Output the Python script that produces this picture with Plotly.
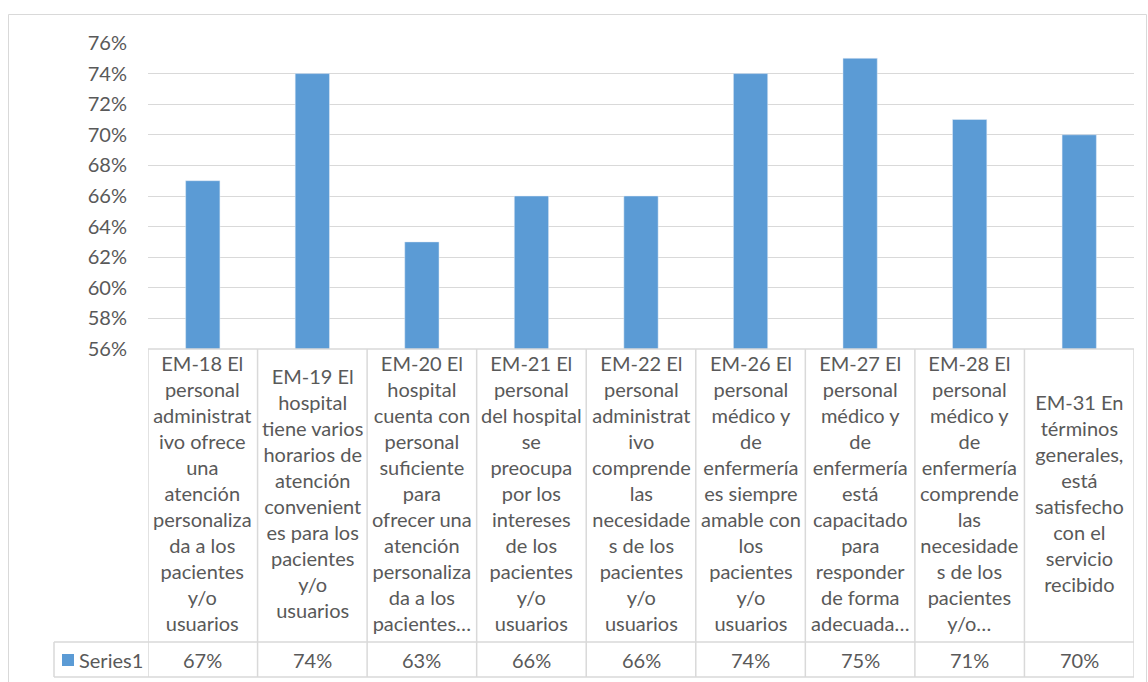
import plotly.graph_objects as go

categories = [
    ["EM-18 El", "personal", "administrat", "ivo ofrece", "una", "atención", "personaliza", "da a los", "pacientes", "y/o", "usuarios"],
    ["EM-19 El", "hospital", "tiene varios", "horarios de", "atención", "convenient", "es para los", "pacientes", "y/o", "usuarios"],
    ["EM-20 El", "hospital", "cuenta con", "personal", "suficiente", "para", "ofrecer una", "atención", "personaliza", "da a los", "pacientes…"],
    ["EM-21 El", "personal", "del hospital", "se", "preocupa", "por los", "intereses", "de los", "pacientes", "y/o", "usuarios"],
    ["EM-22 El", "personal", "administrat", "ivo", "comprende", "las", "necesidade", "s de los", "pacientes", "y/o", "usuarios"],
    ["EM-26 El", "personal", "médico y", "de", "enfermería", "es siempre", "amable con", "los", "pacientes", "y/o", "usuarios"],
    ["EM-27 El", "personal", "médico y", "de", "enfermería", "está", "capacitado", "para", "responder", "de forma", "adecuada…"],
    ["EM-28 El", "personal", "médico y", "de", "enfermería", "comprende", "las", "necesidade", "s de los", "pacientes", "y/o…"],
    ["EM-31 En", "términos", "generales,", "está", "satisfecho", "con el", "servicio", "recibido"],
]
values = [0.67, 0.74, 0.63, 0.66, 0.66, 0.74, 0.75, 0.71, 0.70]
series_name = "Series1"
y_ticks = [0.56, 0.58, 0.60, 0.62, 0.64, 0.66, 0.68, 0.70, 0.72, 0.74, 0.76]

W, H = 1148, 682
FONT = "Lato"
TXT = "#595959"
GRID = "#d9d9d9"
BAR = "#5B9BD5"

def px(x):
    return x / W

def py(y):
    return 1 - y / H

n = len(values)
xs = list(range(n))

fig = go.Figure()
fig.add_trace(go.Bar(x=xs, y=values, marker_color=BAR, width=0.313, name=series_name,
                     showlegend=False))

plot_top, plot_bot = 43, 349
row_bot, ser_bot = 642, 677
left_px, right_px, leg_left = 148, 1134, 54

fig.update_layout(
    width=W, height=H,
    margin=dict(l=0, r=0, t=0, b=0, autoexpand=False),
    showlegend=False,
    paper_bgcolor="white", plot_bgcolor="white",
    font=dict(family=FONT, color=TXT, size=20),
    xaxis=dict(domain=[px(left_px), px(right_px)], range=[-0.5, n - 0.5],
               showticklabels=False, showgrid=False, zeroline=False, showline=False,
               automargin=False),
    yaxis=dict(domain=[py(plot_bot), py(plot_top)], range=[y_ticks[0], y_ticks[-1]],
               tickvals=y_ticks, tickformat=".0%", showgrid=True, gridcolor=GRID,
               gridwidth=1, zeroline=False, showline=False, ticks="", automargin=False,
               ticklabelstandoff=20, tickfont=dict(family=FONT, size=20, color=TXT)),
)

shapes = []
# outer chart border
shapes.append(dict(type="rect", xref="paper", yref="paper", x0=px(8.5), x1=px(1146.5),
                   y0=py(690), y1=py(14.5), line=dict(color=GRID, width=1)))
# table horizontal lines
shapes.append(dict(type="line", xref="x", yref="paper", x0=-0.5, x1=n - 0.5,
                   y0=py(plot_bot), y1=py(plot_bot), line=dict(color=GRID, width=1.5)))
for yy in (row_bot, ser_bot):
    shapes.append(dict(type="line", xref="paper", yref="paper", x0=px(leg_left), x1=px(right_px),
                       y0=py(yy), y1=py(yy), line=dict(color=GRID, width=1.5)))
# vertical lines
for i in range(n + 1):
    shapes.append(dict(type="line", xref="x", yref="paper", x0=i - 0.5, x1=i - 0.5,
                       y0=py(ser_bot), y1=py(plot_bot), line=dict(color=GRID, width=1.5)))
shapes.append(dict(type="line", xref="paper", yref="paper", x0=px(leg_left), x1=px(leg_left),
                   y0=py(ser_bot), y1=py(row_bot), line=dict(color=GRID, width=1.5)))
# legend key
shapes.append(dict(type="rect", xref="paper", yref="paper", x0=px(62), x1=px(74),
                   y0=py(666), y1=py(654), fillcolor=BAR, line=dict(width=0)))
fig.update_layout(shapes=shapes)

ann = []
for i, lines in enumerate(categories):
    ann.append(dict(x=i, xref="x", y=py((plot_bot + row_bot) / 2 - 3), yref="paper",
                    text="<br>".join(lines), showarrow=False, align="center",
                    xanchor="center", yanchor="middle",
                    font=dict(family=FONT, size=20, color=TXT)))
    ann.append(dict(x=i, xref="x", y=py((row_bot + ser_bot) / 2), yref="paper",
                    text=f"{round(values[i] * 100)}%", showarrow=False,
                    xanchor="center", yanchor="middle",
                    font=dict(family=FONT, size=20, color=TXT)))
ann.append(dict(x=px(77), xref="paper", y=py((row_bot + ser_bot) / 2), yref="paper",
                text=series_name, showarrow=False, xanchor="left", yanchor="middle",
                font=dict(family=FONT, size=20, color=TXT)))
fig.update_layout(annotations=ann)

fig.write_html("out.html")
